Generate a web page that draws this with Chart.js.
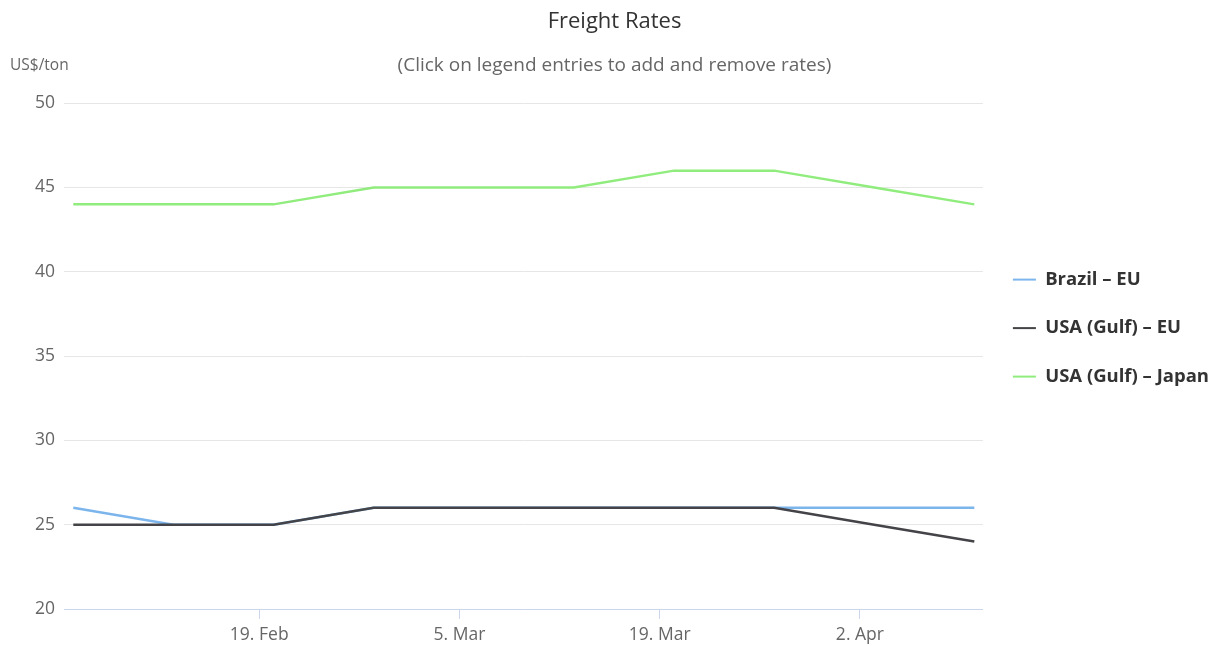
<!doctype html>
<html lang="en">
    <head>
        <meta charset="UTF-8" />
        <title>Freight Rates</title>
        <script src="https://cdn.jsdelivr.net/npm/chart.js"></script>
        <style>
            html, body { margin: 0; padding: 0; background: #fff; }
            #wrap { width: 1216px; height: 646px; }
        </style>
    </head>
    <body>
        <div id="wrap"><canvas id="freightChart"></canvas></div>
        <script>
            // weekly observation dates
            var dates = ["2018-02-06", "2018-02-13", "2018-02-20", "2018-02-27", "2018-03-06", "2018-03-13", "2018-03-20", "2018-03-27", "2018-04-03", "2018-04-10"];
            var brazilEU = [26, 25, 25, 26, 26, 26, 26, 26, 26, 26];
            var usaEU = [25, 25, 25, 26, 26, 26, 26, 26, 25, 24];
            var usaJapan = [44, 44, 44, 45, 45, 45, 46, 46, 45, 44];
            var tickDates = ["2018-02-19", "2018-03-05", "2018-03-19", "2018-04-02"];
            var tickLabels = ["19. Feb", "5. Mar", "19. Mar", "2. Apr"];

            var FONT = "'Open Sans', sans-serif";
            var dayMs = 86400000;
            var t0 = Date.parse(dates[0]);
            function dayOf(d) {
                return (Date.parse(d) - t0) / dayMs;
            }
            function toPoints(values) {
                return values.map(function (v, i) {
                    return { x: dayOf(dates[i]), y: v };
                });
            }
            var tickDays = tickDates.map(dayOf);

            // draws the "US$/ton" unit label above the y axis
            var unitLabel = {
                id: "unitLabel",
                afterDraw: function (chart) {
                    var ctx = chart.ctx;
                    ctx.save();
                    ctx.font = "15.5px " + FONT;
                    ctx.fillStyle = "#666666";
                    ctx.textBaseline = "middle";
                    ctx.textAlign = "left";
                    ctx.fillText("US$/ton", 10, 66);
                    ctx.restore();
                }
            };

            var ctx = document.getElementById("freightChart").getContext("2d");
            var chart = new Chart(ctx, {
                type: "line",
                data: {
                    datasets: [
                        { label: "Brazil – EU", data: toPoints(brazilEU), borderColor: "#7cb5ec", backgroundColor: "#7cb5ec", order: 2 },
                        { label: "USA (Gulf) – EU", data: toPoints(usaEU), borderColor: "#434348", backgroundColor: "#434348", order: 1 },
                        { label: "USA (Gulf) – Japan", data: toPoints(usaJapan), borderColor: "#90ed7d", backgroundColor: "#90ed7d", order: 0 }
                    ]
                },
                options: {
                    responsive: true,
                    maintainAspectRatio: false,
                    animation: false,
                    layout: { padding: { left: 10, right: -3, top: 0, bottom: 0 } },
                    elements: {
                        line: { borderWidth: 2.5, tension: 0 },
                        point: { radius: 0, hoverRadius: 4 }
                    },
                    plugins: {
                        title: {
                            display: true,
                            text: "Freight Rates",
                            color: "#333333",
                            font: { family: FONT, size: 22, weight: "normal" },
                            padding: { top: 9, bottom: 19 }
                        },
                        subtitle: {
                            display: true,
                            text: "(Click on legend entries to add and remove rates)",
                            color: "#666666",
                            font: { family: FONT, size: 19, weight: "normal" },
                            padding: { top: 0, bottom: 26 }
                        },
                        legend: {
                            position: "right",
                            align: "center",
                            // empty title only nudges the items down a little
                            title: { display: true, text: "", font: { size: 1 }, padding: { top: 0, bottom: 9 } },
                            labels: {
                                color: "#333333",
                                font: { family: FONT, size: 18.5, weight: "bold" },
                                boxWidth: 23,
                                boxHeight: 2,
                                padding: 30,
                                sort: function (a, b) {
                                    return a.datasetIndex - b.datasetIndex;
                                },
                                generateLabels: function (c) {
                                    return Chart.defaults.plugins.legend.labels.generateLabels(c).map(function (l) {
                                        l.lineWidth = 0;
                                        return l;
                                    });
                                }
                            }
                        },
                        tooltip: { enabled: true }
                    },
                    scales: {
                        x: {
                            type: "linear",
                            min: -0.65,
                            max: 63.6,
                            afterBuildTicks: function (axis) {
                                axis.ticks = tickDays.map(function (d) {
                                    return { value: d };
                                });
                            },
                            afterFit: function (axis) {
                                axis.height = 37;
                            },
                            ticks: {
                                color: "#666666",
                                font: { family: FONT, size: 17.5 },
                                padding: 6,
                                maxRotation: 0,
                                callback: function (value) {
                                    var i = tickDays.indexOf(value);
                                    return i >= 0 ? tickLabels[i] : "";
                                }
                            },
                            grid: { drawOnChartArea: false, color: "#ccd6eb", tickLength: 10 },
                            border: { color: "#ccd6eb", width: 1 }
                        },
                        y: {
                            min: 20,
                            max: 50,
                            afterFit: function (axis) {
                                axis.width = 54;
                            },
                            ticks: {
                                stepSize: 5,
                                color: "#666666",
                                font: { family: FONT, size: 17.5 },
                                padding: 9
                            },
                            grid: { color: "#e6e6e6", drawTicks: false },
                            border: { display: false }
                        }
                    }
                },
                plugins: [unitLabel]
            });
        </script>
    </body>
</html>
